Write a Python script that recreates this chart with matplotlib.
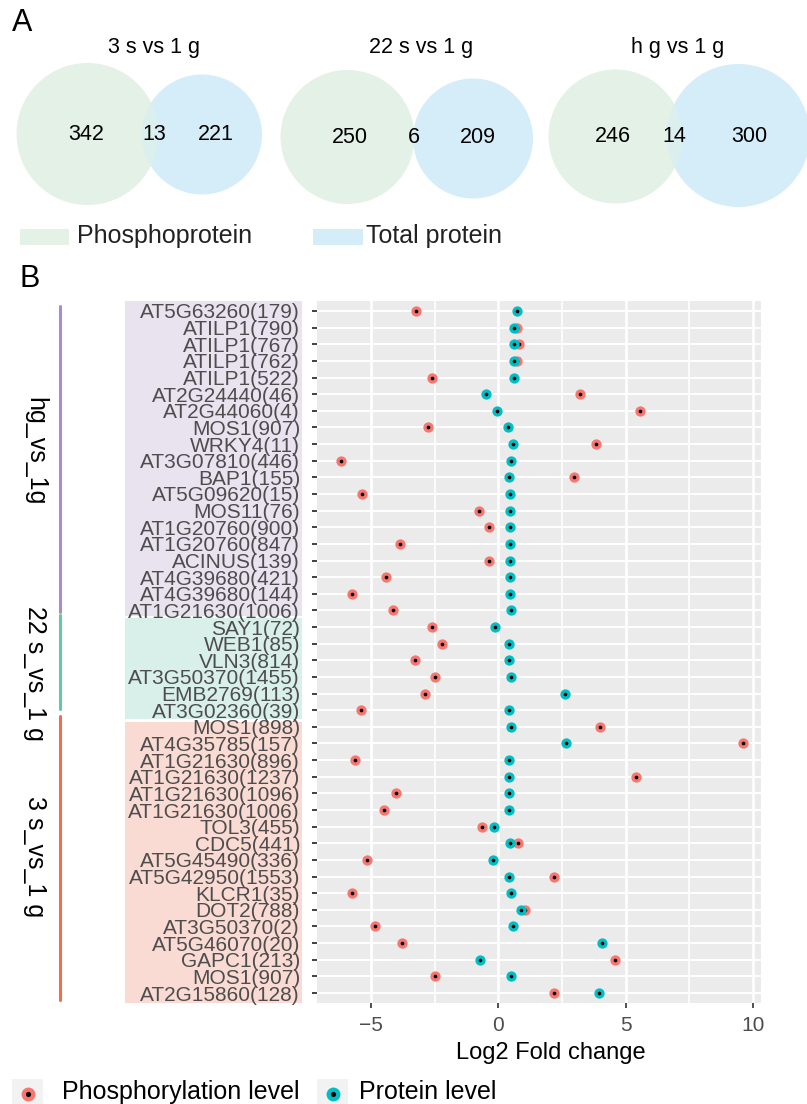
import numpy as np
import matplotlib.pyplot as plt
from matplotlib.patches import Circle, Rectangle
from matplotlib.lines import Line2D
from matplotlib.transforms import blended_transform_factory

plt.rcParams['font.family'] = ['Liberation Sans', 'DejaVu Sans']

# ---- panel A: overlap of phosphoproteins and total proteins
venn_titles = ['3 s vs 1 g', '22 s vs 1 g', 'h g vs 1 g']
phos_only = [342, 250, 246]
overlap = [13, 6, 14]
prot_only = [221, 209, 300]

# ---- panel B: log2 fold change per phosphosite
groups = ['hg_vs_1g', '22 s_vs_1 g', '3 s_vs_1 g']
group_sizes = [19, 6, 17]
sites = ['AT5G63260(179)', 'ATILP1(790)', 'ATILP1(767)', 'ATILP1(762)', 'ATILP1(522)',
         'AT2G24440(46)', 'AT2G44060(4)', 'MOS1(907)', 'WRKY4(11)', 'AT3G07810(446)',
         'BAP1(155)', 'AT5G09620(15)', 'MOS11(76)', 'AT1G20760(900)', 'AT1G20760(847)',
         'ACINUS(139)', 'AT4G39680(421)', 'AT4G39680(144)', 'AT1G21630(1006)',
         'SAY1(72)', 'WEB1(85)', 'VLN3(814)', 'AT3G50370(1455)', 'EMB2769(113)', 'AT3G02360(39)',
         'MOS1(898)', 'AT4G35785(157)', 'AT1G21630(896)', 'AT1G21630(1237)', 'AT1G21630(1096)',
         'AT1G21630(1006)', 'TOL3(455)', 'CDC5(441)', 'AT5G45490(336)', 'AT5G42950(1553)',
         'KLCR1(35)', 'DOT2(788)', 'AT3G50370(2)', 'AT5G46070(20)', 'GAPC1(213)',
         'MOS1(907)', 'AT2G15860(128)']
phos_fc = [-3.24, 0.72, 0.79, 0.72, -2.61, 3.19, 5.58, -2.76, 3.82, -6.21,
           2.97, -5.37, -0.76, -0.38, -3.86, -0.39, -4.44, -5.75, -4.13,
           -2.62, -2.23, -3.28, -2.49, -2.91, -5.41,
           3.99, 9.63, -5.64, 5.42, -4.03, -4.49, -0.64, 0.75, -5.17, 2.18,
           -5.77, 1.05, -4.84, -3.78, 4.59, -2.49, 2.19]
prot_fc = [0.72, 0.63, 0.63, 0.63, 0.63, -0.49, -0.04, 0.38, 0.56, 0.50,
           0.43, 0.46, 0.46, 0.46, 0.46, 0.46, 0.46, 0.46, 0.51,
           -0.14, 0.42, 0.42, 0.51, 2.61, 0.43,
           0.51, 2.65, 0.42, 0.42, 0.42, 0.42, -0.16, 0.46, -0.20, 0.43,
           0.51, 0.89, 0.56, 4.09, -0.73, 0.50, 3.95]

W, H = 807, 1104
fig = plt.figure(figsize=(W / 100, H / 100), dpi=100)

GREEN = '#e3f1e7'
BLUE = '#d5edf8'
RED_PT = '#F8766D'
CYAN_PT = '#00BFC4'
grp_line = ['#a98dc9', '#66c7a5', '#f46d4b']
grp_fill = ['#e9e3f0', '#d9f0ea', '#fadbd3']

# ---------------- Venn diagrams (pixel coordinates)
axv = fig.add_axes([0, 1 - 260 / H, 1, 260 / H])
axv.set_xlim(0, W)
axv.set_ylim(260, 0)
axv.axis('off')

green_c = [(87.5, 134, 71), (347.5, 137, 67), (615.5, 136.5, 67)]
blue_c = [(202, 134.5, 60), (473, 138.5, 60), (738.5, 135.5, 71.5)]
num_x = [(86, 154, 216), (350, 414, 478), (613, 674, 749)]
title_x = [154, 421, 678]

for i in range(3):
    gx, gy, gr = green_c[i]
    bx, by, br = blue_c[i]
    axv.add_patch(Circle((gx, gy), gr, fc=GREEN, ec='none', zorder=1))
    bc = Circle((bx, by), br, fc=BLUE, ec='none', zorder=2)
    axv.add_patch(bc)
    # overlap drawn as a half-transparent green over the blue circle
    mix = Circle((gx, gy), gr, fc=GREEN, ec='none', alpha=0.5, zorder=3)
    axv.add_patch(mix)
    mix.set_clip_path(bc)
    cy = (gy + by) / 2
    for x, n in zip(num_x[i], [phos_only[i], overlap[i], prot_only[i]]):
        axv.text(x, cy, str(n), ha='center', va='center', fontsize=15.5, zorder=5)
    axv.text(title_x[i], 47, venn_titles[i], ha='center', va='center', fontsize=15.5)

axv.text(22, 23, 'A', ha='center', va='center', fontsize=22)
axv.add_patch(Rectangle((20, 229), 49, 16, fc=GREEN, ec='none'))
axv.text(77, 236, 'Phosphoprotein', ha='left', va='center', fontsize=18, color='#222222')
axv.add_patch(Rectangle((313, 229), 50, 16, fc=BLUE, ec='none'))
axv.text(366, 236, 'Total protein', ha='left', va='center', fontsize=18, color='#222222')

fig.text(30 / W, 1 - 279 / H, 'B', ha='center', va='center', fontsize=22)

# ---------------- dot plot
ax = fig.add_axes([317 / W, 1 - 1003 / H, 444 / W, 702 / H])
ax.set_facecolor('#ebebeb')
for s in ax.spines.values():
    s.set_visible(False)

rows = np.arange(len(sites))
ax.set_xlim(-7.14, 10.33)
ax.set_ylim(len(sites) - 0.4, -0.6)

ax.set_xticks([-5, 0, 5, 10])
ax.set_xticks([-2.5, 2.5, 7.5], minor=True)
ax.set_yticks(rows)
ax.set_yticklabels(sites)
ax.grid(True, which='major', axis='x', color='white', lw=1.9)
ax.grid(True, which='minor', axis='x', color='white', lw=1.2)
ax.grid(True, which='major', axis='y', color='white', lw=1.4)
ax.set_axisbelow(True)
ax.tick_params(axis='x', which='major', length=3.5, width=1.2, color='#333333',
               labelsize=15, labelcolor='#4d4d4d', pad=6)
ax.tick_params(axis='x', which='minor', length=0)
ax.tick_params(axis='y', length=3.6, width=1.3, color='#333333',
               labelsize=15, labelcolor='#4d4d4d', pad=8.6)

ax.scatter(phos_fc, rows, s=55, color=RED_PT, lw=0, zorder=3)
ax.scatter(phos_fc, rows, s=7, color='black', lw=0, zorder=4)
ax.scatter(prot_fc, rows, s=55, color=CYAN_PT, lw=0, zorder=5)
ax.scatter(prot_fc, rows, s=7, color='black', lw=0, zorder=6)

fig.text(551 / W, 1 - 1053 / H, 'Log2 Fold change', ha='center', va='center', fontsize=17)

# group bands behind the labels and brackets on the left
tr = blended_transform_factory(fig.transFigure, ax.transData)
fill_span = [(-0.6, 18.35), (18.47, 24.5), (24.7, 41.6)]
line_span = [(-0.3, 18.1), (18.28, 23.9), (24.35, 41.4)]
label_y = [8.4, 21.8, 32.8]
for i, g in enumerate(groups):
    y0, y1 = fill_span[i]
    ax.add_patch(Rectangle((125 / W, y0), 177 / W, y1 - y0, transform=tr,
                           fc=grp_fill[i], ec='none', clip_on=False, zorder=0))
    l0, l1 = line_span[i]
    ax.add_line(Line2D([60 / W, 60 / W], [l0, l1], transform=tr, color=grp_line[i],
                       lw=2.2, solid_capstyle='round', clip_on=False))
    ax.text(35 / W, label_y[i], g, transform=tr, rotation=270, ha='center', va='center',
            fontsize=18, clip_on=False)

# ---------------- bottom legend
axl = fig.add_axes([0, 0, 1, 44 / H])
axl.set_xlim(0, W)
axl.set_ylim(44, 0)
axl.axis('off')
for kx, col, lab, tx in [(12, RED_PT, 'Phosphorylation level', 62),
                         (317, CYAN_PT, 'Protein level', 359)]:
    axl.add_patch(Rectangle((kx, 19), 31, 25, fc='#f2f2f2', ec='none'))
    axl.scatter([kx + 16], [34], s=100, color=col, lw=0)
    axl.scatter([kx + 16], [34], s=14, color='black', lw=0)
    axl.text(tx, 32, lab, ha='left', va='center', fontsize=18)

fig.savefig('out.png', dpi=100)
